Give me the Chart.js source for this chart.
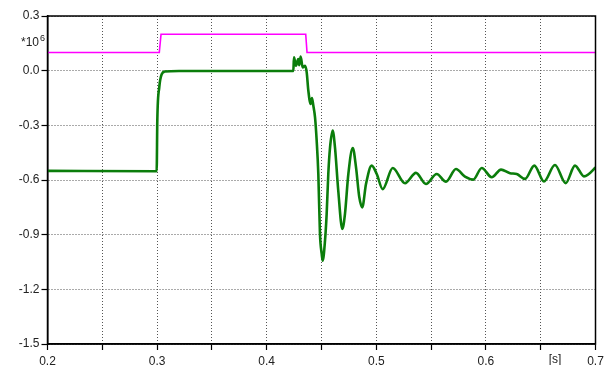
<!DOCTYPE html>
<html>
<head>
<meta charset="utf-8">
<script src="https://cdn.jsdelivr.net/npm/chart.js@4/dist/chart.umd.min.js"></script>
<style>
body{margin:0;background:#fff}
#c{display:block}
</style>
</head>
<body>
<canvas id="c" width="608" height="365"></canvas>
<script>
// time [s] and value [*10^6] of the green signal
const greenT = [0.2, 0.2996, 0.3002, 0.302, 0.3042, 0.307, 0.32, 0.4243, 0.4249, 0.4267, 0.4288, 0.4297, 0.431, 0.4328, 0.435, 0.4365,
  0.438, 0.4401, 0.4413, 0.4425, 0.4441, 0.4456, 0.4471, 0.4486, 0.4502, 0.4511, 0.4532, 0.4547, 0.4562, 0.4578, 0.4602,
  0.4623, 0.4653, 0.469, 0.4714, 0.4745, 0.4785, 0.4815, 0.4845, 0.4872, 0.4906, 0.4958, 0.5004, 0.5058, 0.515, 0.5262,
  0.5362, 0.5453, 0.5551, 0.5636, 0.5727, 0.5809, 0.5885, 0.5962, 0.6053, 0.6138, 0.622, 0.6281, 0.6357, 0.6442, 0.653,
  0.663, 0.6728, 0.6813, 0.6895, 0.6995, 0.7]
const greenV = [-0.55, -0.552, -0.27, -0.09, -0.02, -0.005, -0.002, -0.002, 0.073, 0.027, 0.064, 0.03, 0.077, 0.018, 0.027, -0.009,
  -0.11, -0.183, -0.15, -0.19, -0.256, -0.384, -0.567, -0.896, -1.006, -1.043, -0.933, -0.787, -0.567, -0.421, -0.329,
  -0.421, -0.659, -0.869, -0.787, -0.567, -0.424, -0.531, -0.695, -0.75, -0.622, -0.521, -0.567, -0.65, -0.534, -0.618,
  -0.561, -0.622, -0.567, -0.609, -0.54, -0.582, -0.598, -0.534, -0.585, -0.543, -0.563, -0.567, -0.594, -0.521, -0.608,
  -0.518, -0.617, -0.521, -0.58, -0.534, -0.53]

// magenta step signal
const magT = [0.2, 0.302, 0.3036, 0.4356, 0.4368, 0.7]
const magV = [0.1, 0.1, 0.2, 0.2, 0.1, 0.1]

const xTicks = {min: 0.2, max: 0.7, step: 0.05}
const yTicks = {min: -1.5, max: 0.3, step: 0.3}

const FONT = "'Liberation Sans', Arial, sans-serif"

function pts(t, v){ return t.map((x,i)=>({x:x, y:v[i]})) }

const frame = {
  id:'frame',
  afterDraw(chart){
    const {ctx, chartArea:a} = chart
    ctx.save()
    ctx.strokeStyle = '#000'
    ctx.lineWidth = 1.5
    ctx.strokeRect(a.left, a.top, a.right-a.left, a.bottom-a.top)
    ctx.fillStyle = '#222'
    ctx.font = '12px ' + FONT
    ctx.textBaseline = 'alphabetic'
    ctx.textAlign = 'left'
    ctx.fillText('*10', 21, 46)
    ctx.font = '9px ' + FONT
    ctx.fillText('6', 40, 41)
    ctx.font = '12px ' + FONT
    ctx.textAlign = 'center'
    ctx.textBaseline = 'top'
    ctx.fillText('[s]', 555, a.bottom + 10)
    ctx.restore()
  }
}

new Chart(document.getElementById('c'), {
  type: 'scatter',
  data: {
    datasets: [
      {data: pts(magT, magV), showLine: true, borderColor: '#ff00ff', borderWidth: 1.6, pointRadius: 0, tension: 0},
      {data: pts(greenT, greenV), showLine: true, borderColor: '#0b7d0b', borderWidth: 2.6, pointRadius: 0,
       cubicInterpolationMode: 'monotone'}
    ]
  },
  options: {
    animation: false,
    responsive: false,
    layout: {padding: {top: 16, right: 12.5, left: 0, bottom: 0}},
    plugins: {legend: {display: false}, tooltip: {enabled: false}},
    scales: {
      x: {
        type: 'linear', min: xTicks.min, max: xTicks.max,
        afterFit: s => { s.height = 21 },
        ticks: {
          stepSize: xTicks.step, autoSkip: false, maxRotation: 0, padding: 4, color: '#222',
          font: {family: FONT, size: 12},
          callback: v => Math.abs(v*10 - Math.round(v*10)) < 1e-6 ? v.toFixed(1) : ''
        },
        grid: {color: '#555', lineWidth: 1, tickColor: '#000', tickLength: 6, tickBorderDash: [], tickWidth: 1.2},
        border: {color: '#000', width: 1.5, dash: [1, 2]}
      },
      y: {
        min: yTicks.min, max: yTicks.max,
        afterFit: s => { s.width = 47.5 },
        ticks: {
          stepSize: yTicks.step, padding: 2, color: '#222',
          font: {family: FONT, size: 12},
          callback: v => v.toFixed(1)
        },
        grid: {color: '#555', lineWidth: 1, tickColor: '#000', tickLength: 6, tickBorderDash: [], tickWidth: 1.2},
        border: {color: '#000', width: 1.5, dash: [1, 2]}
      }
    }
  },
  plugins: [frame]
})
</script>
</body>
</html>
